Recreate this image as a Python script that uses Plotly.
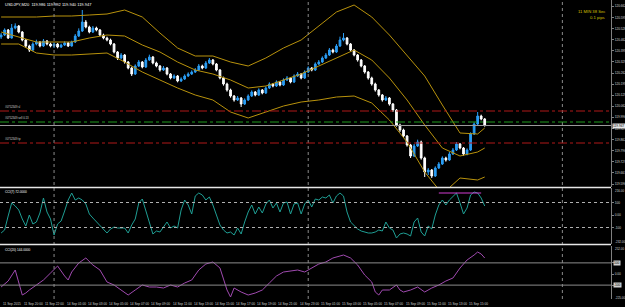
import plotly.graph_objects as go

W, H = 625, 307
PLOT_R = 611  # right edge of chart area in px

# ---------------- data ----------------
symbol = "USDJPY,M20"
bars = list(range(138))
opens = [120.478,120.490,120.520,120.472,120.532,120.544,120.508,120.460,120.424,120.400,
         120.436,120.448,120.424,120.454,120.436,120.424,120.436,120.418,120.430,120.442,
         120.424,120.448,120.484,120.514,120.568,120.538,120.508,120.532,120.520,120.490,
         120.472,120.460,120.436,120.388,120.352,120.370,120.328,120.292,120.256,120.304,
         120.328,120.298,120.340,120.358,120.322,120.304,120.280,120.292,120.256,120.232,
         120.244,120.214,120.226,120.244,120.256,120.268,120.280,120.304,120.292,120.322,
         120.340,120.316,120.280,120.232,120.196,120.160,120.124,120.100,120.112,120.076,
         120.100,120.124,120.148,120.130,120.160,120.142,120.172,120.196,120.184,120.208,
         120.190,120.220,120.232,120.208,120.244,120.256,120.232,120.268,120.292,120.280,
         120.316,120.328,120.352,120.370,120.400,120.388,120.424,120.460,120.472,120.436,
         120.400,120.370,120.340,120.304,120.268,120.232,120.196,120.160,120.130,120.100,
         120.112,120.076,120.040,119.950,119.920,119.884,119.830,119.764,119.824,119.848,
         119.752,119.668,119.680,119.644,119.692,119.716,119.752,119.740,119.776,119.800,
         119.836,119.812,119.776,119.800,119.896,119.956,120.004,119.986]
highs = [120.502,120.530,120.526,120.556,120.560,120.550,120.514,120.466,120.432,120.446,
         120.462,120.454,120.466,120.460,120.444,120.446,120.442,120.438,120.452,120.448,
         120.456,120.496,120.530,120.640,120.580,120.546,120.544,120.540,120.526,120.498,
         120.480,120.468,120.442,120.394,120.382,120.376,120.334,120.300,120.314,120.340,
         120.334,120.352,120.372,120.364,120.330,120.310,120.304,120.298,120.262,120.254,
         120.250,120.236,120.254,120.266,120.278,120.292,120.316,120.312,120.334,120.352,
         120.346,120.322,120.286,120.240,120.204,120.168,120.130,120.124,120.118,120.110,
         120.134,120.158,120.154,120.170,120.166,120.182,120.206,120.202,120.218,120.214,
         120.230,120.244,120.238,120.254,120.268,120.262,120.278,120.302,120.298,120.326,
         120.340,120.362,120.382,120.412,120.408,120.436,120.480,120.502,120.478,120.442,
         120.406,120.376,120.346,120.310,120.274,120.240,120.204,120.166,120.136,120.124,
         120.118,120.082,120.046,119.958,119.928,119.890,119.836,119.836,119.862,119.856,
         119.760,119.692,119.686,119.702,119.728,119.762,119.760,119.788,119.812,119.848,
         119.842,119.818,119.810,119.906,119.966,120.028,120.012,119.992]
lows = [120.466,120.484,120.466,120.468,120.524,120.500,120.452,120.412,120.388,120.394,
        120.428,120.416,120.418,120.428,120.416,120.412,120.410,120.412,120.424,120.418,
        120.420,120.442,120.478,120.508,120.530,120.500,120.502,120.512,120.484,120.464,
        120.452,120.428,120.380,120.340,120.344,120.318,120.284,120.244,120.250,120.298,
        120.290,120.292,120.334,120.314,120.296,120.270,120.274,120.248,120.224,120.226,
        120.206,120.208,120.220,120.238,120.250,120.262,120.274,120.284,120.286,120.316,
        120.308,120.272,120.224,120.186,120.150,120.114,120.090,120.094,120.058,120.070,
        120.094,120.118,120.122,120.124,120.134,120.136,120.166,120.176,120.178,120.182,
        120.184,120.214,120.200,120.202,120.238,120.224,120.226,120.262,120.272,120.274,
        120.310,120.322,120.346,120.364,120.380,120.382,120.418,120.452,120.428,120.392,
        120.362,120.330,120.296,120.258,120.222,120.186,120.150,120.120,120.090,120.094,
        120.066,120.028,119.940,119.908,119.874,119.820,119.752,119.758,119.818,119.742,
        119.638,119.650,119.632,119.638,119.686,119.710,119.730,119.734,119.770,119.794,
        119.804,119.766,119.768,119.794,119.890,119.950,119.978,119.940]
closes = [120.490,120.520,120.472,120.532,120.544,120.508,120.460,120.424,120.400,120.436,
          120.448,120.424,120.454,120.436,120.424,120.436,120.418,120.430,120.442,120.424,
          120.448,120.484,120.514,120.568,120.538,120.508,120.532,120.520,120.490,120.472,
          120.460,120.436,120.388,120.352,120.370,120.328,120.292,120.256,120.304,120.328,
          120.298,120.340,120.358,120.322,120.304,120.280,120.292,120.256,120.232,120.244,
          120.214,120.226,120.244,120.256,120.268,120.280,120.304,120.292,120.322,120.340,
          120.316,120.280,120.232,120.196,120.160,120.124,120.100,120.112,120.076,120.100,
          120.124,120.148,120.130,120.160,120.142,120.172,120.196,120.184,120.208,120.190,
          120.220,120.232,120.208,120.244,120.256,120.232,120.268,120.292,120.280,120.316,
          120.328,120.352,120.370,120.400,120.388,120.424,120.460,120.472,120.436,120.400,
          120.370,120.340,120.304,120.268,120.232,120.196,120.160,120.130,120.100,120.112,
          120.076,120.040,119.950,119.920,119.884,119.830,119.764,119.824,119.848,119.752,
          119.668,119.680,119.644,119.692,119.716,119.752,119.740,119.776,119.800,119.836,
          119.812,119.776,119.800,119.896,119.956,120.004,119.986,119.947]

band_idx = [0,5,10,15,20,25,30,35,40,45,50,55,60,65,70,75,80,85,90,95,100,105,110,115,120,125,130,135,137]
band_upper = [120.598,120.598,120.598,120.604,120.604,120.610,120.616,120.640,120.598,120.502,
              120.412,120.364,120.364,120.328,120.304,120.352,120.412,120.460,120.544,120.628,
              120.670,120.598,120.490,120.364,120.244,120.070,119.902,119.896,119.932]
band_mid = [120.508,120.478,120.448,120.448,120.448,120.472,120.490,120.484,120.430,120.388,
            120.328,120.280,120.256,120.220,120.172,120.184,120.220,120.256,120.304,120.352,
            120.400,120.340,120.232,120.100,119.950,119.812,119.764,119.788,119.812]
band_lower = [120.436,120.436,120.382,120.370,120.370,120.376,120.382,120.328,120.268,120.220,
              120.172,120.130,120.100,120.028,119.992,120.028,120.064,120.088,120.100,120.118,
              120.124,120.082,119.980,119.848,119.668,119.536,119.632,119.620,119.638]

order_ticket = "#0752349"
sl_price, entry_price, tp_price = 120.034, 119.968, 119.842
lot = "0.13"
bid_price = 119.947

price_ticks = [120.662,120.595,120.528,120.462,120.395,120.329,120.262,120.195,120.129,
               120.062,119.996,119.929,119.862,119.796,119.729,119.663,119.596]

cci_fast = [-144,-120,-8,96,72,40,-32,-88,0,-72,-56,16,136,24,-32,-160,-72,-48,32,120,
            176,120,136,120,88,8,-24,-56,-80,-120,-144,-112,-96,-104,-104,-104,-144,-80,-32,96,
            128,40,-48,-152,-128,-136,-96,-56,-104,-88,-104,40,120,80,8,152,176,160,120,144,
            80,0,-80,-120,-144,-136,-160,-104,-152,-56,24,80,8,64,16,88,120,56,96,24,
            96,104,8,88,96,8,88,120,64,128,120,144,136,160,96,152,176,152,24,-56,
            -88,-112,-128,-136,-144,-144,-136,-120,-128,-56,-104,-120,-184,-152,-144,-152,-168,-56,-24,-136,
            -168,-88,-112,0,80,120,80,120,152,176,96,8,56,160,184,176,136,72]
cci_fast_range = [-232, 216]
alert_idx = [124, 136]
alert_val = [176, 176]

cci_slow_idx = [0,2,4,6,7,8,10,12,14,16,18,19,20,22,24,26,28,30,32,34,36,38,40,42,44,46,48,50,
                52,54,56,58,60,62,63,64,65,66,68,70,72,74,76,78,80,82,84,86,88,90,92,94,96,97,
                99,101,103,105,106,107,108,110,112,113,114,116,118,120,122,124,126,128,130,132,
                134,135,136,137]
cci_slow = [-117,-63,36,-189,-171,-144,-99,-54,9,72,-18,-54,18,99,144,81,36,-72,-99,-144,
            -189,-144,-99,-117,-117,-126,-99,-117,-81,-54,36,90,108,54,-36,-144,-207,-126,-162,-189,
            -171,-144,-81,-18,18,27,36,18,54,90,108,144,162,171,144,81,-9,-72,-162,-189,
            -144,-144,-99,-144,-162,-144,-117,-162,-126,-99,-63,-36,54,126,171,198,180,144]
cci_slow_range = [-225, 252]

day_sep_idx = [15, 87, 159]
time_idx = [0,6,12,18,24,30,36,42,48,54,60,66,72,78,84,90,96,102,108,114,120,126,132]
time_text = ["11 Sep 2015","11 Sep 20:00","11 Sep 22:00","14 Sep 01:00","14 Sep 03:00",
             "14 Sep 05:00","14 Sep 07:00","14 Sep 09:00","14 Sep 11:00","14 Sep 13:00",
             "14 Sep 15:00","14 Sep 17:00","14 Sep 19:00","14 Sep 21:00","14 Sep 23:00",
             "15 Sep 01:00","15 Sep 03:00","15 Sep 05:00","15 Sep 07:00","15 Sep 09:00",
             "15 Sep 11:00","15 Sep 13:00","15 Sep 15:00"]
timer_text = "11 MIN 38 Sec"
spread_text = "0.1 pips"

# ---------------- styles ----------------
BG = "#000000"
BULL = "#2a9df4"
BEAR = "#ffffff"
GOLD = "#b8920c"
TEAL = "#1f9e94"
PURPLE = "#a04ab0"
MAGENTA = "#d23cd2"
TXT = "#d0d0d0"
FONT = "Liberation Sans"

def py(p):  # px from top -> paper y
    return 1 - p / H

def pxx(p):  # px from left -> paper x
    return p / W

xr = [-1.1 / 3.53, -1.1 / 3.53 + PLOT_R / 3.53]
main_dom = [py(187), 1]
p2_dom = [py(244), py(188)]
p3_dom = [py(299), py(246)]
price_range = [120.700 - 0.006 * 187, 120.700]

fig = go.Figure()
fig.add_trace(go.Candlestick(
    x=bars, open=opens, high=highs, low=lows, close=closes,
    increasing=dict(line=dict(color=BULL, width=1), fillcolor=BULL),
    decreasing=dict(line=dict(color=BEAR, width=1), fillcolor=BEAR),
    whiskerwidth=0, showlegend=False, hoverinfo="skip", xaxis="x", yaxis="y"))
for band in (band_upper, band_mid, band_lower):
    fig.add_trace(go.Scatter(x=band_idx, y=band, mode="lines",
                             line=dict(color=GOLD, width=1), showlegend=False,
                             hoverinfo="skip", xaxis="x", yaxis="y"))
fig.add_trace(go.Scatter(x=bars, y=cci_fast, mode="lines", line=dict(color=TEAL, width=1),
                         showlegend=False, hoverinfo="skip", xaxis="x2", yaxis="y2"))
fig.add_trace(go.Scatter(x=alert_idx, y=alert_val, mode="lines", line=dict(color=MAGENTA, width=1),
                         showlegend=False, hoverinfo="skip", xaxis="x2", yaxis="y2"))
fig.add_trace(go.Scatter(x=cci_slow_idx, y=cci_slow, mode="lines", line=dict(color=PURPLE, width=1),
                         showlegend=False, hoverinfo="skip", xaxis="x3", yaxis="y3"))

xax = dict(domain=[0, PLOT_R / W], range=xr, showgrid=False, zeroline=False,
           showticklabels=False, showline=False, fixedrange=True)
tickfont = dict(family=FONT, size=3.2, color=TXT)
yax_common = dict(side="right", showgrid=False, zeroline=False, showline=True,
                  linecolor="#808080", linewidth=1, ticks="outside", ticklen=2,
                  tickcolor="#808080", tickfont=tickfont, fixedrange=True)

fig.update_layout(
    width=W, height=H, autosize=False,
    margin=dict(l=0, r=0, t=0, b=0),
    paper_bgcolor=BG, plot_bgcolor=BG,
    font=dict(family=FONT, color=TXT),
    xaxis=dict(**xax, anchor="y", rangeslider=dict(visible=False)),
    xaxis2=dict(**xax, anchor="y2", matches="x"),
    xaxis3=dict(**xax, anchor="y3", matches="x"),
    yaxis=dict(**yax_common, domain=main_dom, range=price_range, anchor="x",
               tickvals=price_ticks, ticktext=[f"{v:.3f}" for v in price_ticks]),
    yaxis2=dict(**yax_common, domain=p2_dom, range=cci_fast_range, anchor="x2",
                tickvals=[100, 0, -100], ticktext=["100", "0.00", "-100"]),
    yaxis3=dict(**yax_common, domain=p3_dom, range=cci_slow_range, anchor="x3",
                tickvals=[100, 0, -100], ticktext=["", "0.00", ""]),
)

shapes = []
for d in day_sep_idx:
    shapes.append(dict(type="line", xref="x", yref="paper", x0=d, x1=d, y0=py(299), y1=1,
                       line=dict(color="#8a8a8a", width=1, dash="dot")))
for sep in (187.5, 244.5):
    shapes.append(dict(type="line", xref="paper", yref="paper", x0=0, x1=PLOT_R / W,
                       y0=py(sep), y1=py(sep), line=dict(color="#e6e6e6", width=1.5)))
for lvl, col in ((sl_price, "#b01818"), (entry_price, "#1e9a1e"), (tp_price, "#b01818")):
    shapes.append(dict(type="line", xref="paper", yref="y", x0=0, x1=PLOT_R / W, y0=lvl, y1=lvl,
                       line=dict(color=col, width=1, dash="dashdot")))
shapes.append(dict(type="line", xref="paper", yref="y", x0=0, x1=PLOT_R / W, y0=bid_price,
                   y1=bid_price, line=dict(color="#9a9a9a", width=1)))
for lvl in (100, -100):
    shapes.append(dict(type="line", xref="paper", yref="y2", x0=0, x1=PLOT_R / W, y0=lvl, y1=lvl,
                       line=dict(color="#b0b0b0", width=1, dash="dot")))
    shapes.append(dict(type="line", xref="paper", yref="y3", x0=0, x1=PLOT_R / W, y0=lvl, y1=lvl,
                       line=dict(color="#8c8c8c", width=1)))
fig.update_layout(shapes=shapes)

ann = []
small = dict(family=FONT, size=3.2, color=TXT)
ann.append(dict(xref="paper", yref="paper", x=pxx(3), y=py(4), xanchor="left", yanchor="middle",
                text=f"{symbol}  {opens[-1]:.3f} {highs[-1]:.3f} {lows[-1]:.3f} {closes[-1]:.3f}",
                showarrow=False, font=dict(family=FONT, size=4, color="#ffffff")))
ann.append(dict(xref="paper", yref="paper", x=pxx(607), y=py(11.5), xanchor="right", yanchor="middle",
                text=timer_text, showarrow=False, font=dict(family=FONT, size=4.2, color="#d8c000")))
ann.append(dict(xref="paper", yref="paper", x=pxx(607), y=py(17.5), xanchor="right", yanchor="middle",
                text=spread_text, showarrow=False, font=dict(family=FONT, size=4.2, color="#d8c000")))
for lvl, lab in ((sl_price, f"{order_ticket} sl"), (entry_price, f"{order_ticket} sell {lot}"),
                 (tp_price, f"{order_ticket} tp")):
    ann.append(dict(xref="paper", yref="y", x=pxx(3), y=lvl, xanchor="left", yanchor="bottom",
                    yshift=0.5, text=lab, showarrow=False, font=dict(family=FONT, size=2.8, color=TXT)))
ann.append(dict(xref="paper", yref="y", x=pxx(612), y=bid_price, xanchor="left", yanchor="middle",
                text=f"{bid_price:.3f}", showarrow=False, bgcolor="#e8e8e8", borderpad=0,
                font=dict(family=FONT, size=3.2, color="#000000")))
ann.append(dict(xref="paper", yref="paper", x=pxx(3), y=py(192), xanchor="left", yanchor="middle",
                text=f"CCI(7) {cci_fast[-1]:.4f}", showarrow=False,
                font=dict(family=FONT, size=3.2, color="#ffffff")))
ann.append(dict(xref="paper", yref="paper", x=pxx(3), y=py(249.5), xanchor="left", yanchor="middle",
                text=f"CCI(20) {cci_slow[-1]:.4f}", showarrow=False,
                font=dict(family=FONT, size=3.2, color="#ffffff")))
for ypx, txt in ((190.5, f"{cci_fast_range[1]:.2f}"), (242, f"{cci_fast_range[0]:.2f}"),
                 (248.5, f"{cci_slow_range[1]:.2f}"), (298, f"{cci_slow_range[0]:.2f}")):
    ann.append(dict(xref="paper", yref="paper", x=pxx(612.5), y=py(ypx), xanchor="left",
                    yanchor="middle", text=txt, showarrow=False,
                    font=dict(family=FONT, size=3.0, color=TXT)))
for lvl in (100, -100):
    ann.append(dict(xref="paper", yref="y3", x=pxx(613), y=lvl, xanchor="left", yanchor="middle",
                    text=str(lvl), showarrow=False, bgcolor="#d0d0d0", borderpad=0,
                    font=dict(family=FONT, size=3.2, color="#000000")))
for i, t in zip(time_idx, time_text):
    ann.append(dict(xref="x", yref="paper", x=i, y=py(303.5), xanchor="left", yanchor="middle",
                    text=t, showarrow=False, font=small))
fig.update_layout(annotations=ann)

fig.write_html("out.html")
